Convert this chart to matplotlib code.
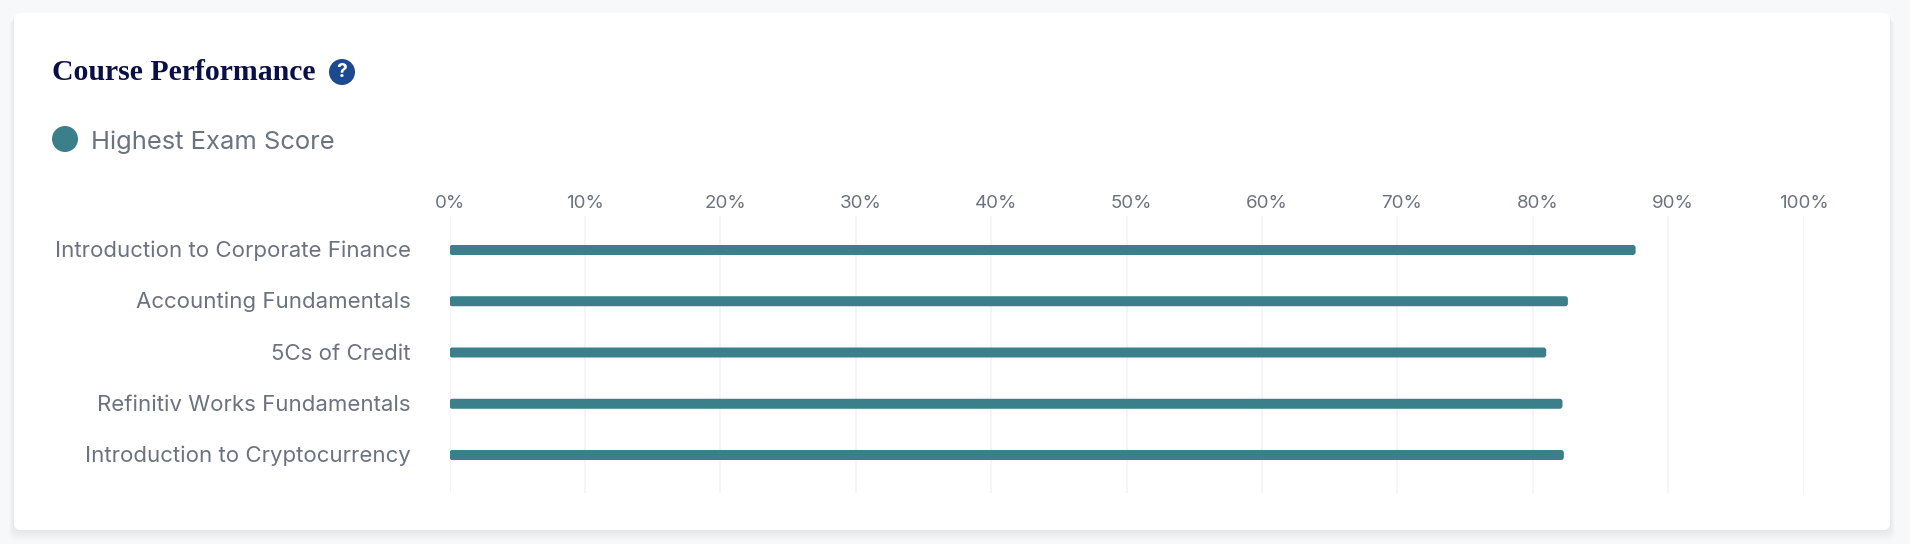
import matplotlib
matplotlib.use("Agg")
import matplotlib.pyplot as plt
from matplotlib.patches import Circle, FancyBboxPatch
from matplotlib.transforms import ScaledTranslation

courses = ["Introduction to Corporate Finance", "Accounting Fundamentals",
           "5Cs of Credit", "Refinitiv Works Fundamentals",
           "Introduction to Cryptocurrency"]
highest_score = [87.6, 82.6, 81.0, 82.2, 82.3]
ticks = list(range(0, 101, 10))
tick_labels = [f"{t}%" for t in ticks]

W, H = 1910, 544
TEAL = "#3a7f8a"
GREY = "#6b7280"
plt.rcParams["font.family"] = ["Inter", "DejaVu Sans"]

fig = plt.figure(figsize=(W / 100, H / 100), dpi=100, facecolor="#f7f8fa")

# page layer in pixel coordinates: card, title, legend
bg = fig.add_axes([0, 0, 1, 1])
bg.set_xlim(0, W)
bg.set_ylim(H, 0)
bg.axis("off")

# soft shadow under the card
for grow, alpha in [(12, 0.012), (9, 0.016), (6, 0.02), (3, 0.025)]:
    bg.add_patch(FancyBboxPatch((14 - grow * 0.4, 13 + grow * 0.6),
                                1876 + grow * 0.8, 517 + grow * 0.3,
                                boxstyle="round,pad=0,rounding_size=8",
                                fc="#1f2937", ec="none", alpha=alpha))
bg.add_patch(FancyBboxPatch((14, 13), 1876, 517,
                            boxstyle="round,pad=0,rounding_size=6",
                            fc="white", ec="none"))

bg.text(52, 72, "Course Performance", family="Liberation Serif",
        weight="bold", fontsize=21.4, color="#0a1045", va="center", ha="left")
bg.add_patch(Circle((342, 72), 13, fc="#1c4a8f", ec="none"))
bg.text(342, 72, "?", color="white", weight="bold", fontsize=14,
        ha="center", va="center")

bg.add_patch(Circle((65, 139), 13, fc=TEAL, ec="none"))
bg.text(91, 142, "Highest Exam Score", color=GREY, fontsize=18.4,
        ha="left", va="center")

# chart axes, placed so 0% and 100% land on the reference gridlines
left, right, top, bottom = 449.5, 1803.5, 216, 493
ax = fig.add_axes([left / W, 1 - bottom / H, (right - left) / W, (bottom - top) / H])
ax.patch.set_alpha(0)
ax.set_xlim(0, 100)
ax.set_ylim(4.741, -0.663)

px_x = (right - left) / 100
px_y = (bottom - top) / (4.741 + 0.663)
bar_h = 10 / px_y

ax.set_axisbelow(True)
ax.grid(axis="x", color="#f3f4f6", linewidth=1.2)
ax.grid(axis="y", visible=False)

for i, score in enumerate(highest_score):
    ax.add_patch(FancyBboxPatch((0, i - bar_h / 2), score, bar_h,
                                boxstyle="round,pad=0,rounding_size=0.2",
                                mutation_aspect=px_x / px_y,
                                fc=TEAL, ec="none", zorder=3))

for side in ax.spines.values():
    side.set_visible(False)

ax.xaxis.tick_top()
ax.set_xticks(ticks)
ax.set_xticklabels(tick_labels, fontsize=13.5, color=GREY)
ax.set_yticks(range(len(courses)))
ax.set_yticklabels(courses, fontsize=16, color=GREY)
ax.tick_params(axis="both", length=0)
ax.tick_params(axis="x", pad=3)
ax.tick_params(axis="y", pad=28)

# 20% to 90% sit a few pixels right of their gridlines in the original
for tick, label in zip(ticks, ax.get_xticklabels()):
    if 20 <= tick <= 90:
        label.set_transform(label.get_transform()
                            + ScaledTranslation(4.7 / 100, 0, fig.dpi_scale_trans))
for label in ax.get_yticklabels():
    label.set_transform(label.get_transform()
                        + ScaledTranslation(0, 1 / 100, fig.dpi_scale_trans))

fig.savefig("out.png", dpi=100, facecolor=fig.get_facecolor())
